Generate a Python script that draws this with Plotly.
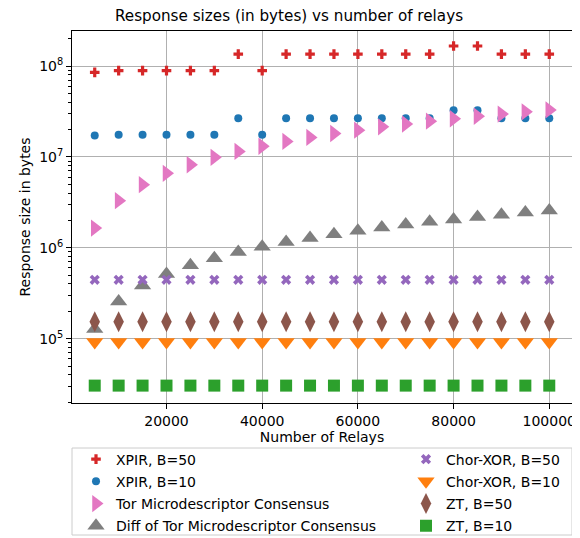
import plotly.graph_objects as go

relays = [5000, 10000, 15000, 20000, 25000, 30000, 35000, 40000, 45000, 50000,
          55000, 60000, 65000, 70000, 75000, 80000, 85000, 90000, 95000, 100000]

xpir_b50 = [8.5e7, 8.9e7, 8.9e7, 8.9e7, 8.9e7, 8.9e7, 1.35e8, 8.9e7, 1.35e8, 1.35e8,
            1.35e8, 1.35e8, 1.35e8, 1.35e8, 1.35e8, 1.66e8, 1.66e8, 1.35e8, 1.35e8, 1.35e8]
xpir_b10 = [1.72e7, 1.75e7, 1.75e7, 1.75e7, 1.75e7, 1.75e7, 2.66e7, 1.75e7, 2.66e7, 2.66e7,
            2.66e7, 2.66e7, 2.66e7, 2.66e7, 2.66e7, 3.26e7, 3.26e7, 2.66e7, 2.66e7, 2.66e7]
tor_consensus = [1.65e6, 3.3e6, 4.95e6, 6.6e6, 8.2e6, 9.9e6, 1.15e7, 1.31e7, 1.48e7, 1.64e7,
                 1.81e7, 1.97e7, 2.14e7, 2.3e7, 2.47e7, 2.63e7, 2.8e7, 2.96e7, 3.13e7, 3.29e7]
tor_diff = [1.28e5, 2.57e5, 3.85e5, 5.14e5, 6.42e5, 7.7e5, 9.0e5, 1.03e6, 1.16e6, 1.28e6,
            1.41e6, 1.54e6, 1.67e6, 1.8e6, 1.93e6, 2.05e6, 2.18e6, 2.31e6, 2.44e6, 2.57e6]
chor_b50 = [4.45e5] * 20
chor_b10 = [9.2e4] * 20
zt_b50 = [1.54e5] * 20
zt_b10 = [3.05e4] * 20

x_ticks = [20000, 40000, 60000, 80000, 100000]
y_ticks = [1e5, 1e6, 1e7, 1e8]
y_tick_labels = ["10<sup>5</sup>", "10<sup>6</sup>", "10<sup>7</sup>", "10<sup>8</sup>"]
y_minor = [k * 10 ** e for e in range(4, 9) for k in range(2, 10)]

series = [
    ("XPIR, B=50", xpir_b50, "#d62728", "cross", 8, "legend", 1),
    ("XPIR, B=10", xpir_b10, "#1f77b4", "circle", 8, "legend", 2),
    ("Tor Microdescriptor Consensus", tor_consensus, "#e377c2", "triangle-right", 15, "legend", 3),
    ("Diff of Tor Microdescriptor Consensus", tor_diff, "#7f7f7f", "triangle-up", 15, "legend", 4),
    ("Chor-XOR, B=50", chor_b50, "#9467bd", "x", 9, "legend2", 5),
    ("Chor-XOR, B=10", chor_b10, "#ff7f0e", "triangle-down", 15, "legend2", 6),
    ("ZT, B=50", zt_b50, "#8c564b", "diamond-tall", 15, "legend2", 7),
    ("ZT, B=10", zt_b10, "#2ca02c", "square", 12, "legend2", 8),
]

fig = go.Figure()
for name, vals, color, sym, size, leg, rank in series:
    fig.add_trace(go.Scatter(
        x=relays, y=vals, mode="markers", name=name, legend=leg, legendrank=rank,
        legendgroup=name,
        marker=dict(color=color, symbol=sym, size=size, line=dict(width=0)),
    ))

font = dict(family="DejaVu Sans", size=14, color="#000000")
fig.update_layout(
    width=572, height=530,
    margin=dict(l=64, r=8, t=23, b=135, autoexpand=False),
    paper_bgcolor="white", plot_bgcolor="white",
    font=font,
    title=dict(text="Response sizes (in bytes) vs number of relays",
               x=(281 - 64) / 500, xref="paper", xanchor="center",
               y=1 - 7.5 / 530, yref="container", yanchor="middle",
               font=dict(family="DejaVu Sans", size=15.2, color="#000000")),
    xaxis=dict(range=[250, 104750], tickvals=x_ticks, tickformat="d",
               showgrid=True, gridcolor="#b0b0b0", gridwidth=0.8,
               showline=True, linecolor="black", linewidth=1, mirror=True,
               ticks="outside", ticklen=5, tickcolor="black", zeroline=False,
               automargin=False,
               title=dict(text="Number of Relays", standoff=2, font=font),
               tickfont=font),
    yaxis=dict(type="log", range=[4.293, 8.385], tickvals=y_ticks, ticktext=y_tick_labels,
               showgrid=True, gridcolor="#b0b0b0", gridwidth=0.8,
               showline=True, linecolor="black", linewidth=1, mirror=True,
               ticks="outside", ticklen=5, tickcolor="black", zeroline=False,
               automargin=False,
               minor=dict(tickvals=y_minor, ticks="outside", ticklen=3,
                          tickcolor="black", showgrid=False),
               title=dict(text="Response size in bytes", standoff=5, font=font),
               tickfont=font),
    legend=dict(x=0.008, xanchor="left", y=-0.109, yanchor="top",
                orientation="v", bgcolor="rgba(0,0,0,0)", borderwidth=0,
                font=font, tracegroupgap=1),
    legend2=dict(x=0.668, xanchor="left", y=-0.109, yanchor="top",
                 orientation="v", bgcolor="rgba(0,0,0,0)", borderwidth=0,
                 font=font, tracegroupgap=1),
    shapes=[dict(type="rect", xref="paper", yref="paper",
                 x0=0.0, x1=1.0, y0=(404 - 449) / 372, y1=(404 - 536) / 372,
                 line=dict(color="#cccccc", width=1), fillcolor="rgba(0,0,0,0)",
                 layer="below")],
    showlegend=True,
)

fig.write_html("out.html")
